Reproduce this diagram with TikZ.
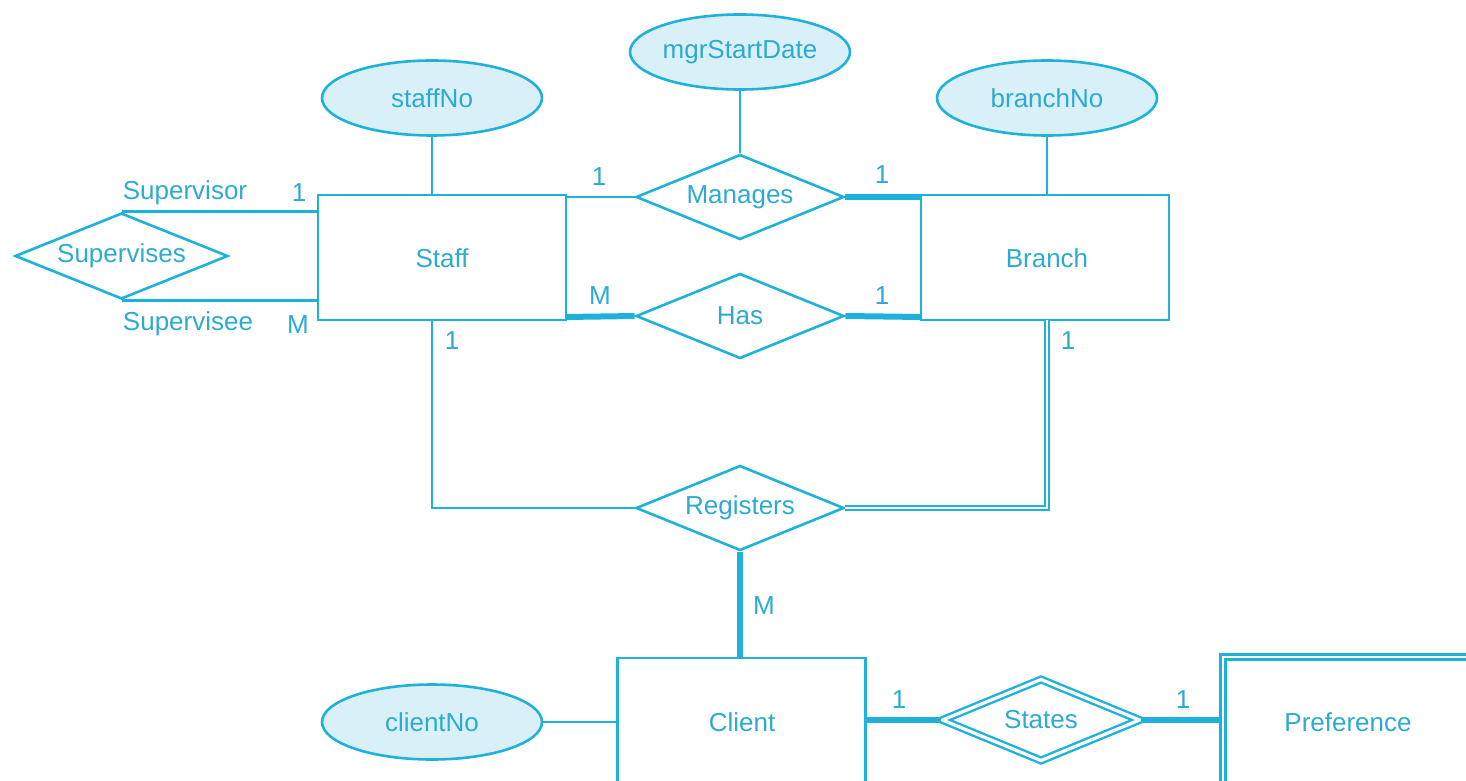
\documentclass[tikz,border=0pt]{standalone}
\usepackage{fontspec}
\setmainfont{Liberation Sans}
\usetikzlibrary{shapes.geometric}
\definecolor{erline}{RGB}{30,178,218}
\definecolor{ertext}{RGB}{45,170,210}
\definecolor{erfill}{RGB}{218,240,248}
\tikzset{
  every node/.style={font=\fontsize{13}{15}\selectfont, text=ertext},
  entity/.style={draw=erline, line width=1.3pt, rectangle, minimum width=124pt, minimum height=62.5pt, inner sep=0pt},
  weakent/.style={entity, double=white, double distance=1.4pt, line width=1.1pt},
  rel/.style={draw=erline, line width=1.3pt, diamond, inner sep=0pt, aspect=2.45, minimum width=104pt, minimum height=42.5pt},
  weakrel/.style={rel, double=white, double distance=1.6pt, line width=1.2pt},
  attr/.style={draw=erline, line width=1.3pt, ellipse, fill=erfill, minimum width=110pt, minimum height=37.5pt, inner sep=0pt},
  conn/.style={draw=erline, line width=1.3pt},
  total/.style={draw=erline, line width=3pt},
  dbl/.style={draw=erline, line width=1pt, double=white, double distance=1.2pt},
  lbl/.style={inner sep=0pt},
}
\begin{document}
\begin{tikzpicture}[x=0.5pt, y=-0.5pt]
\useasboundingbox (0,0) rectangle (1466,781);
\clip (0,0) rectangle (1466,781);
% attributes
\node[attr] (staffNo) at (432,98) {staffNo};
\node[attr] (mgr) at (740,52) {mgrStartDate};
\node[attr] (branchNo) at (1047,98) {branchNo};
\node[attr] (clientNo) at (432,722) {clientNo};
% entities
\node[entity] (staff) at (442,257.5) {};
\node at (442,258) {Staff};
\node[entity] (branch) at (1045,257.5) {};
\node at (1047,258) {Branch};
\node[entity, minimum height=140pt] (client) at (741.5,798) {};
\node at (742,722) {Client};
\node[weakent, minimum height=140pt] (pref) at (1347,797) {};
\node at (1348,722) {Preference};
% relationships
\node[rel, minimum width=106.5pt, minimum height=43pt] (superv) at (121.5,256) {Supervises};
\node[rel] (manages) at (740,197) {Manages};
\node[rel] (has) at (740,316) {Has};
\node[rel] (registers) at (740,508) {Registers};
\node[weakrel, minimum width=99pt, minimum height=41pt] (states) at (1041,720) {States};
% coordinates
\coordinate (staffTR) at (566,197);
\coordinate (staffBR) at (566,317);
\coordinate (branchTL) at (922,197);
\coordinate (branchBL) at (922,317);
% attribute links
\draw[conn] (staffNo.south) -- (staffNo.south |- staff.north);
\draw[conn] (branchNo.south) -- (branchNo.south |- branch.north);
\draw[conn] (mgr.south) -- (manages.north);
\draw[conn] (clientNo.east) -- (clientNo.east -| client.west);
% supervises
\draw[conn] (superv.north) -- (superv.north -| staff.west);
\draw[conn] (superv.south) -- (superv.south -| staff.west);
% manages / has
\draw[conn] (staffTR) -- (manages.west);
\draw[total] (manages.east) -- (branchTL);
\draw[total] (staffBR) -- (has.west);
\draw[total] (has.east) -- (branchBL);
% registers
\draw[conn] (432,320) |- (registers.west);
\draw[dbl] (1047,320) |- (registers.east);
\draw[total] (registers.south) -- (registers.south |- client.north);
% states
\draw[total] (client.east |- states.west) -- (states.west);
\draw[total] (states.east) -- (states.east -| pref.west);
% cardinality labels
\node[lbl] (l1) at (185,193) {Supervisor};
\node[lbl] (l2) at (299,193) {1};
\node[lbl] (l3) at (188,324) {Supervisee};
\node[lbl] (l4) at (298,325) {M};
\node[lbl] (l5) at (599,177) {1};
\node[lbl] (l6) at (882,175) {1};
\node[lbl] (l7) at (600,296) {M};
\node[lbl] (l8) at (882,296) {1};
\node[lbl] (l9) at (452,341) {1};
\node[lbl] (l10) at (1068,341) {1};
\node[lbl] (l11) at (764,606) {M};
\node[lbl] (l12) at (899,700) {1};
\node[lbl] (l13) at (1183,700) {1};
\end{tikzpicture}
\end{document}
